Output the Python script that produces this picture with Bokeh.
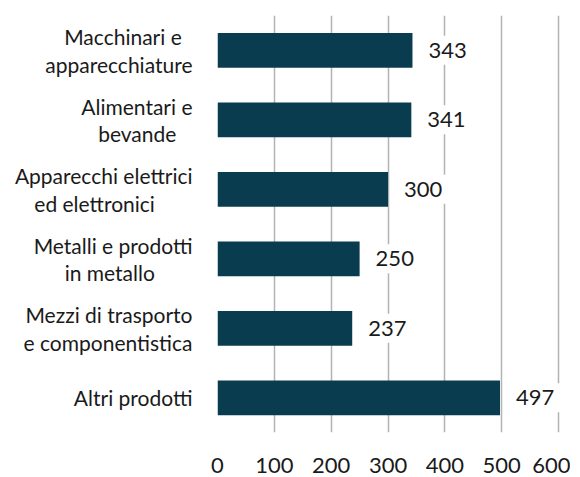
from bokeh.plotting import figure
from bokeh.models import FactorRange, Range1d, ColumnDataSource, FixedTicker
from bokeh.core.properties import value
from bokeh.embed import file_html
from bokeh.resources import INLINE

NB = "\u00a0"
categories = [
    "Macchinari e" + NB * 2 + "\napparecchiature",
    "Alimentari e\nbevande" + NB * 3,
    "Apparecchi elettrici\ned elettronici" + NB * 7,
    "Metalli e prodotti\nin metallo" + NB * 7,
    "Mezzi di trasporto\ne componentistica",
    "Altri prodotti",
]
values = [343, 341, 300, 250, 237, 497]
x_ticks = [0, 100, 200, 300, 400, 500, 600]

FONT = "Lato"
BAR = "#0a3c50"
GRID = "#b3b3b3"
TXT = "#1a1a1a"

src = ColumnDataSource(dict(cat=categories, val=values, lab=[str(v) for v in values]))

p = figure(
    y_range=FactorRange(*reversed(categories), range_padding=0),
    x_range=Range1d(0, 621),
    width=570, height=477,
    output_backend="svg", toolbar_location=None,
    min_border_left=217, min_border_right=0, min_border_top=15, min_border_bottom=45,
)
p.outline_line_color = None
p.background_fill_color = "white"
p.border_fill_color = "white"

p.hbar(y="cat", right="val", left=0, height=0.5, source=src, color=BAR, line_color=None)

p.text(x="val", y="cat", text="lab", source=src, x_offset=9,
       text_baseline="middle", text_align="left",
       text_font=value(FONT), text_font_size="22px", text_color=TXT,
       background_fill_color="white", padding=7)

p.xgrid.ticker = FixedTicker(ticks=x_ticks)
p.xgrid.grid_line_color = GRID
p.xgrid.grid_line_width = 1.5
p.ygrid.grid_line_color = None

p.xaxis.ticker = FixedTicker(ticks=x_ticks)
p.xaxis.axis_line_color = None
p.xaxis.major_tick_line_color = None
p.xaxis.minor_tick_line_color = None
p.xaxis.major_label_standoff = 19
p.xaxis.major_label_text_font = FONT
p.xaxis.major_label_text_font_size = "22px"
p.xaxis.major_label_text_color = TXT

p.yaxis.axis_line_color = None
p.yaxis.major_tick_line_color = None
p.yaxis.minor_tick_line_color = None
p.yaxis.major_label_standoff = 19
p.yaxis.major_label_text_font = FONT
p.yaxis.major_label_text_font_size = "21px"
p.yaxis.major_label_text_line_height = 1.1
p.yaxis.major_label_text_color = TXT

open("out.html", "w").write(file_html(p, INLINE))
